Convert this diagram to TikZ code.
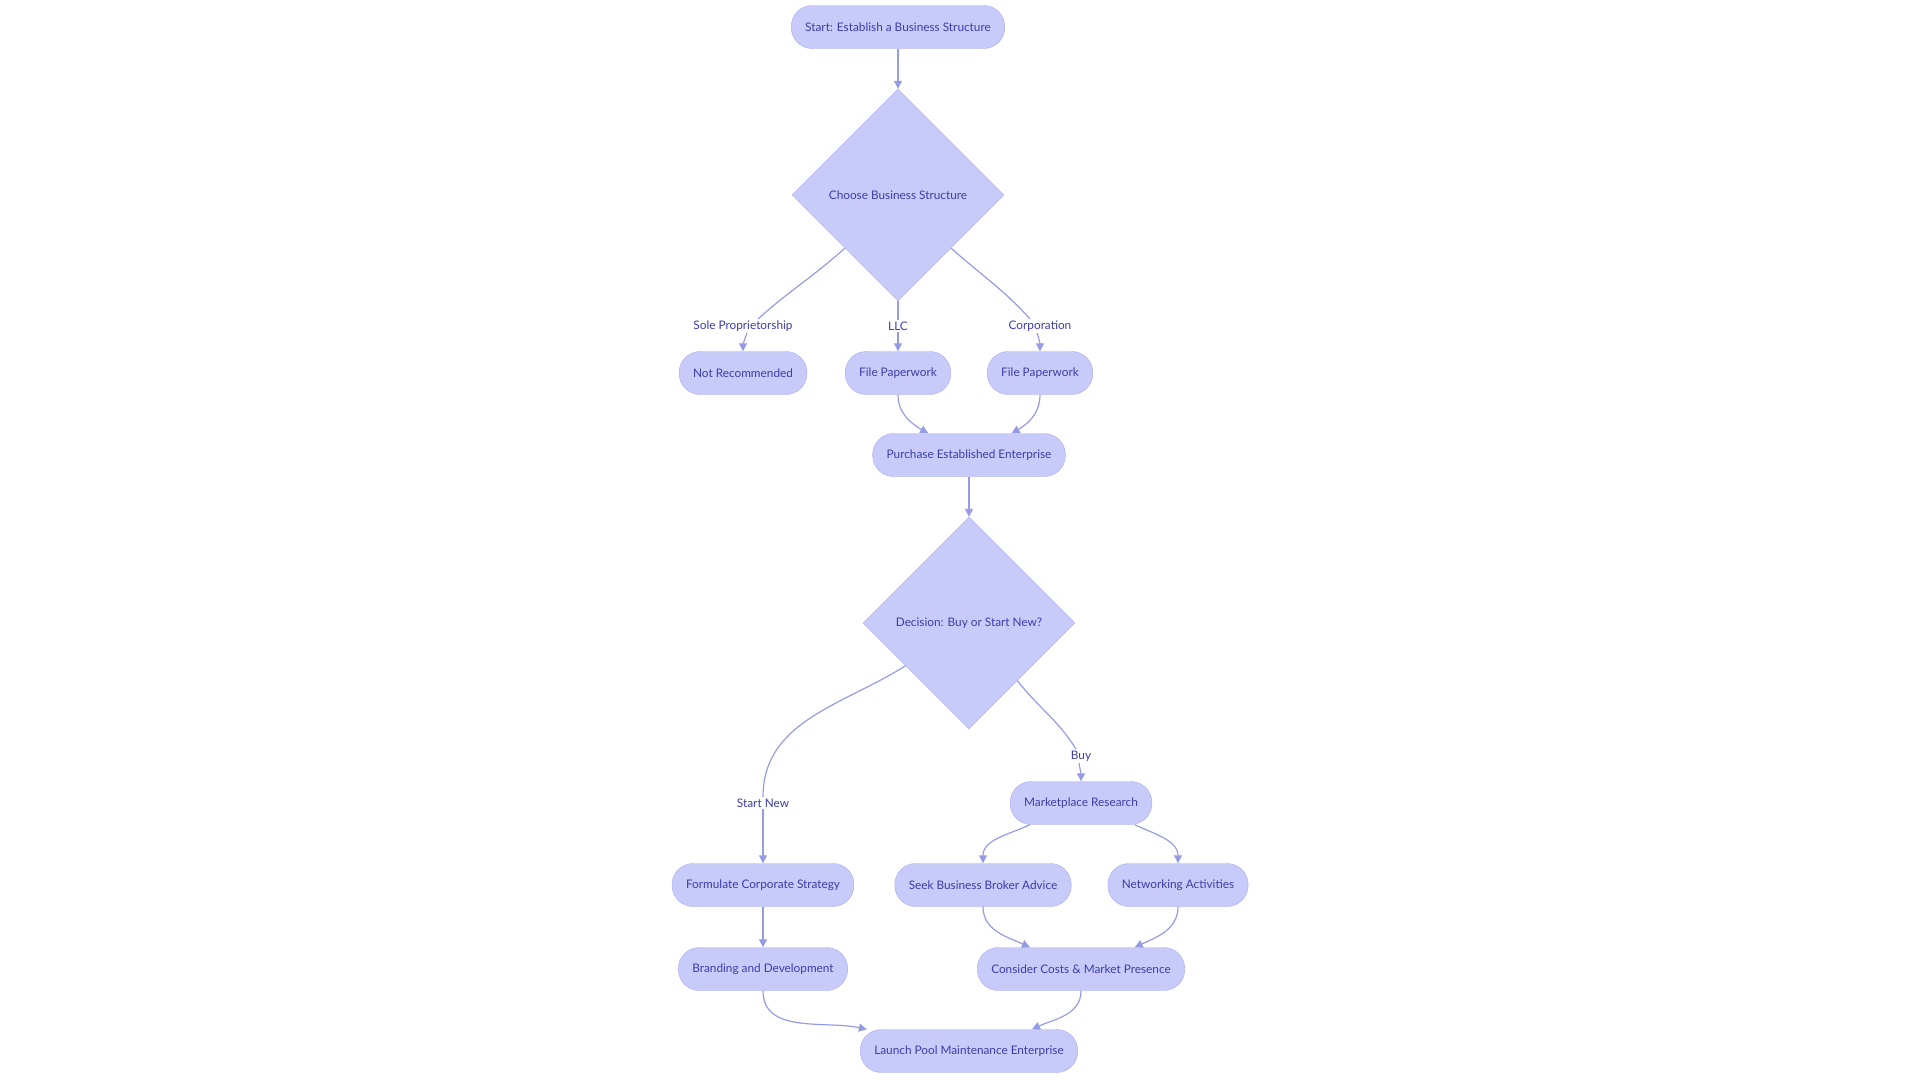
\documentclass[tikz,border=0pt]{standalone}
\usepackage{fontspec}
\setmainfont{Lato}
\usetikzlibrary{shapes.geometric,arrows.meta}
\usetikzlibrary{calc}
\definecolor{boxfill}{RGB}{200,203,250}
\definecolor{boxline}{RGB}{166,170,240}
\definecolor{edgeline}{RGB}{150,155,230}
\definecolor{boxtext}{RGB}{60,60,170}

\begin{document}
\begin{tikzpicture}[x=1pt, y=-1pt,
    box/.style={draw=boxline, fill=boxfill, text=boxtext, rounded corners=21pt,
      minimum height=43pt, inner xsep=14pt, font=\fontsize{11.8}{14}\selectfont},
    choice/.style={diamond, aspect=1, draw=boxline, fill=boxfill, text=boxtext,
      minimum width=212pt, minimum height=212pt, inner sep=0pt, font=\fontsize{11.8}{14}\selectfont},
    lbl/.style={fill=white, text=boxtext, inner sep=1.5pt, font=\fontsize{11.8}{14}\selectfont},
    edge/.style={draw=edgeline, line width=1.2pt},
    arrow/.style={edge, -{Triangle[length=8pt,width=8pt]}}]
          \useasboundingbox (0, 0) rectangle (1920, 1080);
          \node[box] (start) at (898, 27) {Start: Establish a Business Structure};
          \node[choice] (structure) at (898, 195) {Choose Business Structure};
          \node[box] (notrec) at (743, 373) {Not Recommended};
          \node[box] (llcfile) at (898, 373) {File Paperwork};
          \node[box] (corpfile) at (1040, 373) {File Paperwork};
          \node[box] (purchase) at (969, 455) {Purchase Established Enterprise};
          \node[choice] (decision) at (969, 623) {Decision: Buy or Start New?};
          \node[box] (market) at (1081, 803) {Marketplace Research};
          \node[box] (strategy) at (763, 885) {Formulate Corporate Strategy};
          \node[box] (broker) at (983, 885) {Seek Business Broker Advice};
          \node[box] (network) at (1178, 885) {Networking Activities};
          \node[box] (branding) at (763, 969) {Branding and Development};
          \node[box] (costs) at (1081, 969) {Consider Costs \& Market Presence};
          \node[box] (launch) at (969, 1051) {Launch Pool Maintenance Enterprise};
          %
          \node[lbl] (sole) at (743, 326) {Sole Proprietorship};
          \node[lbl] (llc) at (898, 326) {LLC};
          \node[lbl] (corp) at (1040, 326) {Corporation};
          \node[lbl] (startnew) at (763, 803) {Start New};
          \node[lbl] (buy) at (1081, 756) {Buy};
          %
          \draw[arrow] (start) -- (structure);
          \draw[edge] (structure.-135) to[out=-138, in=42] ($(sole.north)+(15,0)$);
          \draw[arrow] ($(sole.south)+(4,0)$) to[out=-110, in=90] (notrec.north);
          \draw[edge] (structure.south) -- (llc.north);
          \draw[arrow] (llc.south) -- (llcfile.north);
          \draw[edge] (structure.-45) to[out=-42, in=132] ($(corp.north)+(-10,0)$);
          \draw[arrow] ($(corp.south)+(-3,0)$) to[out=-70, in=90] (corpfile.north);
          \draw[arrow] (llcfile.south) to[out=-90, in=150] (purchase.152);
          \draw[arrow] (corpfile.south) to[out=-90, in=30] (purchase.27);
          \draw[arrow] (purchase) -- (decision);
          %
          \draw[edge] (decision.-146) to[out=-148, in=90] (startnew.north);
          \draw[arrow] (startnew.south) -- (strategy.north);
          \draw[edge] (decision.-50) to[out=-52, in=122] ($(buy.north)+(-5,0)$);
          \draw[arrow] ($(buy.south)+(-2,0)$) to[out=-80, in=90] (market.north);
          \draw[arrow] (market.-157) to[out=-155, in=90] (broker.north);
          \draw[arrow] (market.-22) to[out=-25, in=90] (network.north);
          \draw[arrow] (strategy) -- (branding);
          \draw[arrow] (broker.south) to[out=-90, in=155] (costs.157);
          \draw[arrow] (network.south) to[out=-90, in=25] (costs.22);
          \draw[arrow] (branding.south) to[out=-90, in=168] (launch.168);
          \draw[arrow] (costs.south) to[out=-90, in=25] (launch.19);
        \end{tikzpicture}
\end{document}
